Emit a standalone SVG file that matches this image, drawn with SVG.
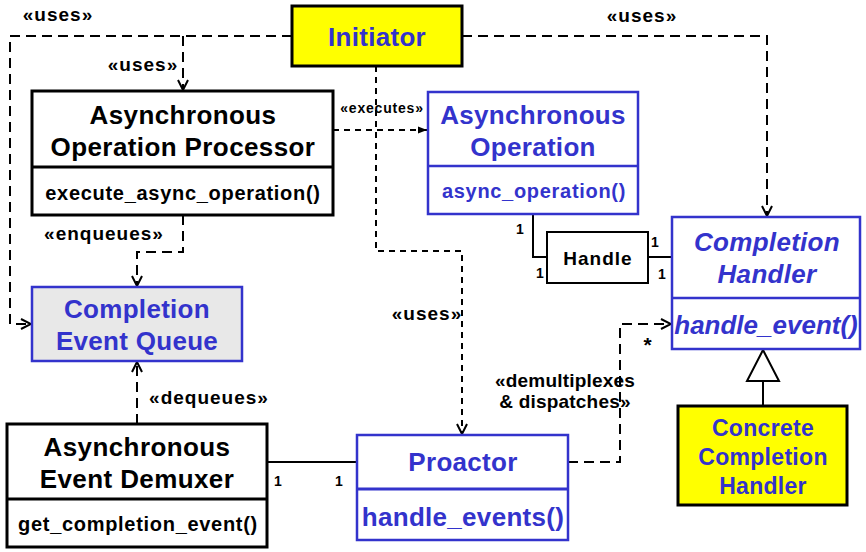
<svg xmlns="http://www.w3.org/2000/svg" width="866" height="552" viewBox="0 0 866 552">
<style>
text{font-family:"Liberation Sans",Arial,sans-serif;font-weight:bold;text-anchor:middle}
.box{fill:#fff;stroke:#000;stroke-width:3}
.bbox{fill:#fff;stroke:#3333cc;stroke-width:2.5}
.t{font-size:26px;fill:#000;letter-spacing:0.4px}
.tb{font-size:26px;fill:#3333cc;letter-spacing:0.3px}
.m{font-size:20px;fill:#000;letter-spacing:0.7px}
.mb{font-size:20px;fill:#3333cc;letter-spacing:0.7px}
.lbl{font-size:19px;fill:#000;letter-spacing:1px}
.sm{font-size:14px;fill:#000;letter-spacing:0.8px}
.num{font-size:14px;fill:#000}
.dash{fill:none;stroke:#000;stroke-width:2;stroke-dasharray:10 6}
.dash2{fill:none;stroke:#000;stroke-width:2;stroke-dasharray:6 5}
.solid{fill:none;stroke:#000;stroke-width:2}
</style>
<defs>
<marker id="open" viewBox="0 0 12 12" refX="11" refY="6" markerWidth="12" markerHeight="12" markerUnits="userSpaceOnUse" orient="auto">
<path d="M1,1 L11,6 L1,11" fill="none" stroke="#000" stroke-width="2"/>
</marker>
<marker id="fill" viewBox="0 0 10 10" refX="10" refY="5" markerWidth="9" markerHeight="9" markerUnits="userSpaceOnUse" orient="auto">
<path d="M0,1 L10,5 L0,9 Z" fill="#000"/>
</marker>
</defs>
<g id="connectors">
<path class="dash" d="M292,36 H10 V324 H31" marker-end="url(#open)"/>
<path class="dash" d="M183,36 V90" marker-end="url(#open)"/>
<path class="dash" d="M462,36 H767 V216" marker-end="url(#open)"/>
<path class="dash2" d="M376,66 V251 H462 V434" marker-end="url(#open)"/>
<path class="dash2" d="M333,130 H427" marker-end="url(#fill)"/>
<path class="dash" d="M183,215 V252 H137 V286" marker-end="url(#open)"/>
<path class="dash" d="M137,424 V362" marker-end="url(#open)"/>
<path class="solid" d="M267,462 H357"/>
<path class="dash" d="M568,462 H620 V324 H671" marker-end="url(#open)"/>
<path class="solid" d="M533,214 V257 H547"/>
<path class="solid" d="M648,257 H672"/>
<path class="solid" d="M763,381 V406"/>
<path d="M763,350 L747,381 H779 Z" fill="#fff" stroke="#000" stroke-width="2"/>
<text class="lbl" x="58" y="21">«uses»</text>
<text class="lbl" x="143" y="71">«uses»</text>
<text class="lbl" x="642" y="22">«uses»</text>
<text class="lbl" x="427" y="320">«uses»</text>
<text class="sm" x="382" y="113">«executes»</text>
<text class="lbl" x="104" y="240">«enqueues»</text>
<text class="lbl" x="209" y="404">«dequeues»</text>
<text class="lbl" x="565" y="387" style="letter-spacing:0.2px">«demultiplexes</text>
<text class="lbl" x="565" y="408" style="letter-spacing:0.2px">&amp; dispatches»</text>
<text class="lbl" x="648" y="352" style="font-size:21px">*</text>
<text class="num" x="278" y="486">1</text>
<text class="num" x="339" y="486">1</text>
<text class="num" x="520" y="234">1</text>
<text class="num" x="540" y="278">1</text>
<text class="num" x="655" y="247">1</text>
<text class="num" x="662" y="279">1</text>
</g>
<g id="initiator">
<rect x="292" y="6" width="170" height="60" fill="#ffff00" stroke="#000" stroke-width="3"/>
<text class="tb" x="377" y="46">Initiator</text>
</g>
<g id="aop">
<rect class="box" x="32" y="91" width="301" height="124"/>
<line x1="32" y1="167" x2="333" y2="167" stroke="#000" stroke-width="3"/>
<text class="t" x="183" y="124">Asynchronous</text>
<text class="t" x="183" y="156">Operation Processor</text>
<text class="m" x="183" y="200">execute_async_operation()</text>
</g>
<g id="async-op">
<rect class="bbox" x="428" y="92" width="210" height="122"/>
<line x1="428" y1="166" x2="638" y2="166" stroke="#3333cc" stroke-width="2.5"/>
<text class="tb" x="533" y="124">Asynchronous</text>
<text class="tb" x="533" y="156">Operation</text>
<text class="mb" x="534" y="198">async_operation()</text>
</g>
<g id="handle">
<rect x="547" y="232" width="101" height="51" fill="#fff" stroke="#000" stroke-width="2"/>
<text class="lbl" x="598" y="265">Handle</text>
</g>
<g id="completion-handler">
<rect class="bbox" x="672" y="217" width="188" height="132"/>
<line x1="672" y1="298" x2="860" y2="298" stroke="#3333cc" stroke-width="2.5"/>
<text class="tb" x="767" y="251" font-style="italic">Completion</text>
<text class="tb" x="767" y="283" font-style="italic">Handler</text>
<text class="tb" x="766" y="334" font-style="italic" style="letter-spacing:0">handle_event()</text>
</g>
<g id="ceq">
<rect x="32" y="287" width="210" height="74" fill="#e8e8e8" stroke="#3333cc" stroke-width="2.5"/>
<text class="tb" x="137" y="318">Completion</text>
<text class="tb" x="137" y="350">Event Queue</text>
</g>
<g id="demuxer">
<rect class="box" x="7" y="424" width="260" height="123"/>
<line x1="7" y1="499" x2="267" y2="499" stroke="#000" stroke-width="3"/>
<text class="t" x="137" y="456">Asynchronous</text>
<text class="t" x="137" y="488">Event Demuxer</text>
<text class="m" x="138" y="531">get_completion_event()</text>
</g>
<g id="proactor">
<rect class="bbox" x="357" y="435" width="211" height="105" stroke-width="3"/>
<line x1="357" y1="489" x2="568" y2="489" stroke="#3333cc" stroke-width="3"/>
<text class="tb" x="463" y="471">Proactor</text>
<text class="tb" x="463" y="526">handle_events()</text>
</g>
<g id="concrete">
<rect x="678" y="406" width="169" height="99" fill="#ffff00" stroke="#000" stroke-width="3"/>
<text class="tb" x="763" y="436" style="font-size:23px">Concrete</text>
<text class="tb" x="763" y="465" style="font-size:23px">Completion</text>
<text class="tb" x="763" y="494" style="font-size:23px">Handler</text>
</g>
</svg>
